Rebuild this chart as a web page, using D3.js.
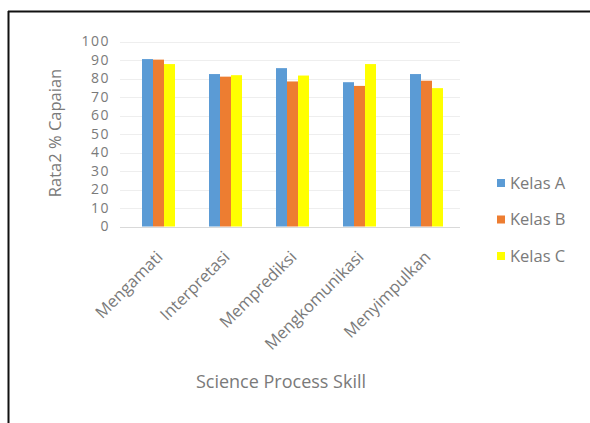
<!DOCTYPE html>
<html><head><meta charset="utf-8">
<script src="https://cdn.jsdelivr.net/npm/d3@7"></script>
<style>body{margin:0;background:#fff}svg{display:block}</style>
</head><body>
<svg id="c" width="590" height="423"></svg>
<script>
const categories = ["Mengamati","Interpretasi","Memprediksi","Mengkomunikasi","Menyimpulkan"];
const seriesNames = ["Kelas A","Kelas B","Kelas C"];
const kelasA = [90.5, 82.4, 85.6, 78, 82.4];
const kelasB = [90.2, 81, 78.4, 76, 78.8];
const kelasC = [87.8, 81.8, 81.6, 87.8, 74.8];
const yTicks = [0,10,20,30,40,50,60,70,80,90,100];
const colors = ["#5B9BD5","#ED7D31","#FFFF00"];
const series = [kelasA, kelasB, kelasC];

const svg = d3.select("#c");
const font = "'Open Sans', 'Noto Sans', sans-serif";
const txt = "#7a7a7a";
// frame (left and top edges)
svg.append("line").attr("x1",8.5).attr("x2",8.5).attr("y1",11).attr("y2",423).attr("stroke","#111").attr("stroke-width",2);
svg.append("line").attr("x1",8).attr("x2",590).attr("y1",11.5).attr("y2",11.5).attr("stroke","#111").attr("stroke-width",2);

const x0 = d3.scaleBand().domain(categories).range([125,460]).paddingInner(0).paddingOuter(0);
const x1 = d3.scaleBand().domain(seriesNames).range([x0.bandwidth()/2-16.5, x0.bandwidth()/2+16.5]);
const y = d3.scaleLinear().domain([0,100]).range([226.5,41.5]);

// gridlines
svg.append("g").selectAll("line").data(yTicks).join("line")
  .attr("x1",120).attr("x2",460).attr("y1",d=>Math.round(y(d))+0.5).attr("y2",d=>Math.round(y(d))+0.5)
  .attr("stroke",d=>d===0?"#d9d9d9":"#eeeeee").attr("stroke-width",1);

// y axis labels
const yAxis = d3.axisLeft(y).tickValues(yTicks).tickSize(0).tickPadding(0);
const gy = svg.append("g").attr("transform","translate(110,0)").call(yAxis);
gy.select(".domain").remove();
gy.selectAll("text").attr("fill",txt).style("font-family",font).style("font-size","14px").style("letter-spacing","1.5px");

// bars
const g = svg.append("g");
categories.forEach((c,i)=>{
  series.forEach((s,j)=>{
    g.append("rect")
      .attr("x", x0(c)+x1(seriesNames[j]))
      .attr("y", y(s[i]))
      .attr("width", x1.bandwidth())
      .attr("height", y(0)-y(s[i]))
      .attr("fill", colors[j]);
  });
});

// x axis labels
const xAxis = d3.axisBottom(x0).tickSize(0).tickPadding(0);
const gx = svg.append("g").attr("transform","translate(0,254)").call(xAxis);
gx.select(".domain").remove();
gx.selectAll("text")
  .attr("fill",txt).style("font-family",font).style("font-size","16.5px")
  .attr("text-anchor","end").attr("dy","0.35em")
  .attr("transform","translate(1,0) rotate(-45)");

// axis titles
svg.append("text").attr("transform","translate(55,133) rotate(-90)")
  .attr("text-anchor","middle").attr("dy","0.35em").attr("fill",txt)
  .style("font-family",font).style("font-size","16.5px").text("Rata2 % Capaian");
svg.append("text").attr("x",281).attr("y",388).attr("text-anchor","middle").attr("fill",txt)
  .style("font-family",font).style("font-size","18px").text("Science Process Skill");

// legend
const lg = svg.append("g");
seriesNames.forEach((n,j)=>{
  const yy = 183 + j*36.5;
  lg.append("rect").attr("x",497).attr("y",yy-4).attr("width",8).attr("height",8).attr("fill",colors[j]);
  lg.append("text").attr("x",510).attr("y",yy).attr("dy","0.35em").attr("fill",txt)
    .style("font-family",font).style("font-size","16.5px").text(n);
});
</script>
</body></html>
